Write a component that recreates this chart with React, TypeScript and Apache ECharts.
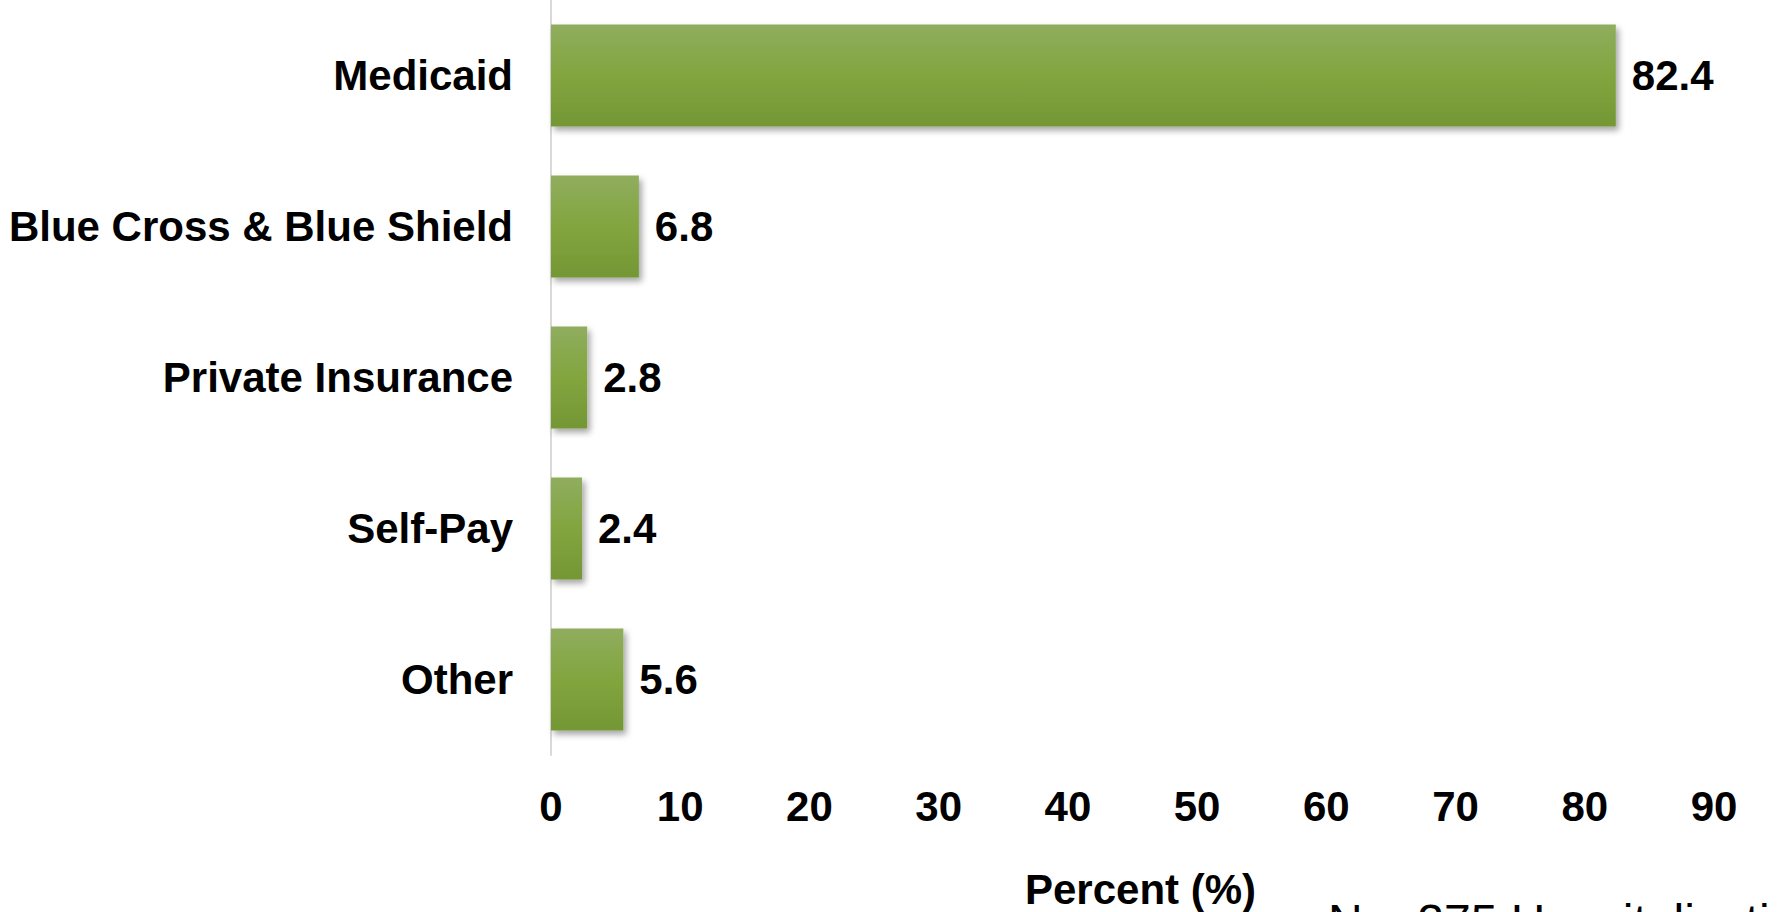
import React, { useEffect, useRef } from "react";
import * as echarts from "echarts";

const categories = ["Medicaid", "Blue Cross & Blue Shield", "Private Insurance", "Self-Pay", "Other"];
const values = [82.4, 6.8, 2.8, 2.4, 5.6];
const xTicks = [0, 10, 20, 30, 40, 50, 60, 70, 80, 90];
const axisTitle = "Percent (%)";
const note = "N = 275 Hospitalizations";

const FONT = "'Liberation Sans', Arial, Helvetica, sans-serif";

export default function App() {
  const ref = useRef<HTMLDivElement>(null);
  useEffect(() => {
    if (!ref.current) return;
    const chart = echarts.init(ref.current, null, { renderer: "svg" });
    chart.setOption({
      animation: false,
      backgroundColor: "#ffffff",
      grid: { left: 551, right: 74, top: 0, height: 755, containLabel: false },
      xAxis: {
        type: "value",
        min: xTicks[0],
        max: xTicks[xTicks.length - 1],
        interval: 10,
        axisLine: { show: false },
        axisTick: { show: false },
        splitLine: { show: false },
        axisLabel: {
          margin: 30,
          color: "#000",
          fontFamily: FONT,
          fontWeight: "bold",
          fontSize: 42,
        },
      },
      yAxis: {
        type: "category",
        data: categories,
        inverse: true,
        axisLine: { show: true, lineStyle: { color: "#d9d9d9", width: 2 } },
        axisTick: { show: false },
        axisLabel: {
          margin: 38,
          color: "#000",
          fontFamily: FONT,
          fontWeight: "bold",
          fontSize: 42,
        },
      },
      series: [
        {
          type: "bar",
          data: values,
          barWidth: 102,
          itemStyle: {
            color: new echarts.graphic.LinearGradient(0, 0, 0, 1, [
              { offset: 0, color: "#90ad5e" },
              { offset: 0.5, color: "#82a53f" },
              { offset: 1, color: "#749735" },
            ]),
            shadowColor: "rgba(0,0,0,0.35)",
            shadowBlur: 6,
            shadowOffsetX: 3,
            shadowOffsetY: 4,
          },
          label: {
            show: true,
            position: "right",
            distance: 16,
            color: "#000",
            fontFamily: FONT,
            fontWeight: "bold",
            fontSize: 42,
            formatter: (p: any) => p.value.toFixed(1),
          },
        },
      ],
      graphic: [
        {
          type: "text",
          left: 1025,
          top: 868,
          style: {
            text: axisTitle,
            fill: "#000",
            font: `bold 42px ${FONT}`,
          },
        },
        {
          type: "text",
          left: 1328,
          top: 897,
          style: {
            text: note,
            fill: "#000",
            font: `48px ${FONT}`,
          },
        },
      ],
    });
    return () => chart.dispose();
  }, []);
  return <div ref={ref} style={{ width: 1788, height: 912, position: "absolute", left: 0, top: 0 }} />;
}
